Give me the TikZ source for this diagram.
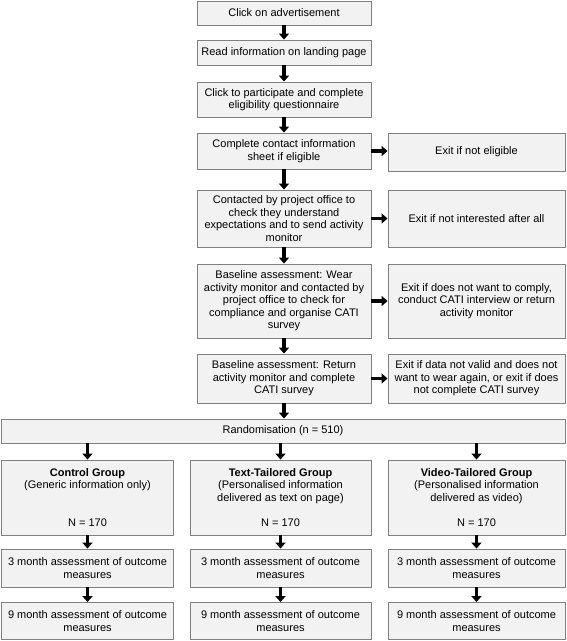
\documentclass[tikz,border=0pt]{standalone}
\usepackage{fontspec}
\setmainfont{Liberation Sans}
\usepackage{tikz}
\usetikzlibrary{arrows.meta,positioning}

\begin{document}
\begin{tikzpicture}[x=1pt,y=-1pt,
	stage/.style={draw=custcol_80_80_80, fill=custcol_f2_f2_f2, line width=0.9pt, inner sep=0, align=center, font=\fontsize{11pt}{12.5pt}\selectfont},
	flow/.style={line width=3.6pt, custcol_0_0_0, -{Triangle[width=10pt,length=6pt]}}]
	\definecolor{custcol_0_0_0}{RGB}{0, 0, 0}
	\definecolor{custcol_80_80_80}{RGB}{128, 128, 128}
	\definecolor{custcol_f2_f2_f2}{RGB}{242, 242, 242}
	\useasboundingbox (0.0,0.0) rectangle (567.0,641.0);
	% main column
	\node[stage, minimum width=174pt, minimum height=24pt] (click) at (284.0,13.0) {Click on advertisement};
	\node[stage, minimum width=174pt, minimum height=25pt] (read) at (284.0,52.5) {Read information on landing page};
	\node[stage, minimum width=174pt, minimum height=35pt] (quest) at (284.0,99.5) {Click to participate and complete\\eligibility questionnaire};
	\node[stage, minimum width=174pt, minimum height=36pt] (contact) at (284.0,151.0) {Complete contact information\\sheet if eligible};
	\node[stage, minimum width=174pt, minimum height=57pt] (office) at (284.0,218.5) {Contacted by project office to\\check they understand\\expectations and to send activity\\monitor};
	\node[stage, minimum width=174pt, minimum height=74pt] (wear) at (284.0,301.0) {Baseline assessment: Wear\\activity monitor and contacted by\\project office to check for\\compliance and organise CATI\\survey};
	\node[stage, minimum width=174pt, minimum height=49pt] (return) at (284.0,378.5) {Baseline assessment: Return\\activity monitor and complete\\CATI survey};
	% exits
	\node[stage, minimum width=177pt, minimum height=38pt] (exitA) at (476.5,152.0) {Exit if not eligible};
	\node[stage, minimum width=177pt, minimum height=57pt] (exitB) at (476.5,218.5) {Exit if not interested after all};
	\node[stage, minimum width=177pt, minimum height=74pt] (exitC) at (476.5,301.0) {Exit if does not want to comply,\\conduct CATI interview or return\\activity monitor};
	\node[stage, minimum width=177pt, minimum height=49pt] (exitD) at (476.5,378.5) {Exit if data not valid and does not\\want to wear again, or exit if does\\not complete CATI survey};
	% randomisation and groups
	\node[stage, minimum width=564pt, minimum height=24pt] (rand) at (283.0,431.0) {Randomisation (n = 510)};
	\node[stage, minimum width=172pt, minimum height=75pt] (control) at (87.5,497.5) {\textbf{Control Group}\\(Generic information only)\\ \\ \\N = 170};
	\node[stage, minimum width=181pt, minimum height=75pt] (text) at (280.5,497.5) {\textbf{Text-Tailored Group}\\(Personalised information\\delivered as text on page)\\ \\N = 170};
	\node[stage, minimum width=177pt, minimum height=75pt] (video) at (476.5,497.5) {\textbf{Video-Tailored Group}\\(Personalised information\\delivered as video)\\ \\N = 170};
	\node[stage, minimum width=172pt, minimum height=38pt] (controlT) at (87.5,568.0) {3 month assessment of outcome\\measures};
	\node[stage, minimum width=181pt, minimum height=38pt] (textT) at (280.5,568.0) {3 month assessment of outcome\\measures};
	\node[stage, minimum width=177pt, minimum height=38pt] (videoT) at (476.5,568.0) {3 month assessment of outcome\\measures};
	\node[stage, minimum width=172pt, minimum height=37pt] (controlN) at (87.5,621.0) {9 month assessment of outcome\\measures};
	\node[stage, minimum width=181pt, minimum height=37pt] (textN) at (280.5,621.0) {9 month assessment of outcome\\measures};
	\node[stage, minimum width=177pt, minimum height=37pt] (videoN) at (476.5,621.0) {9 month assessment of outcome\\measures};
	% arrows
	\draw[flow] (click) -- (read);
	\draw[flow] (read) -- (quest);
	\draw[flow] (quest) -- (contact);
	\draw[flow] (contact) -- (office);
	\draw[flow] (office) -- (wear);
	\draw[flow] (wear) -- (return);
	\draw[flow] (return.south) -- (return.south |- rand.north);
	\draw[flow] (contact.east) -- (exitA.west |- contact.east);
	\draw[flow] (office.east) -- (exitB.west);
	\draw[flow] (wear.east) -- (exitC.west);
	\draw[flow] (return.east) -- (exitD.west);
	\foreach \grp in {control,text,video} {
		\draw[flow] (rand.south -| \grp.north) -- (\grp.north);
		\draw[flow] (\grp) -- (\grp T);
		\draw[flow] (\grp T) -- (\grp N);
	}
\end{tikzpicture}
\end{document}
